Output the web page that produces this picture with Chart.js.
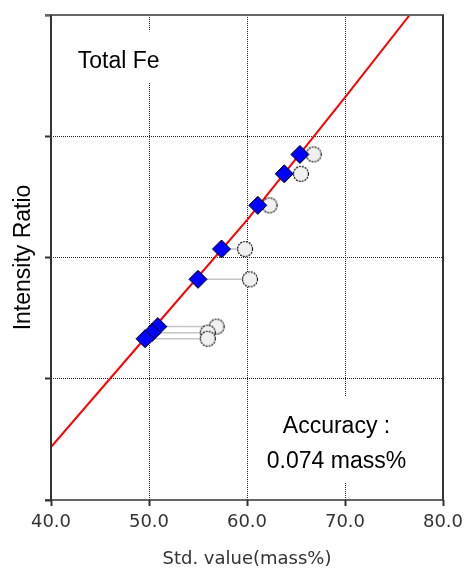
<!DOCTYPE html>
<html>
<head>
<meta charset="utf-8">
<script src="https://cdn.jsdelivr.net/npm/chart.js@4.4.1/dist/chart.umd.min.js"></script>
<style>
  html, body { margin: 0; padding: 0; background: #fff; }
  #c { display: block; }
</style>
</head>
<body>
<canvas id="c" width="468" height="570"></canvas>
<script>
// ── Data ───────────────────────────────────────────
const stdValue  = [65.4, 63.8, 61.1, 57.4, 55.0, 50.9, 50.3, 49.6];   // blue diamonds
const calcValue = [66.8, 65.5, 62.3, 59.8, 60.3, 56.9, 56.0, 56.0];   // open circles
const intensity = [2.85, 2.69, 2.43, 2.07, 1.82, 1.43, 1.38, 1.33];
const curveX = [40, 50, 60, 70, 76.6];
const curveY = [0.437, 1.373, 2.309, 3.32, 4.0];
const xTicks = [40, 50, 60, 70, 80];
const yTicks = [0, 1, 2, 3, 4];

const LABEL_FONT = "'Liberation Sans', Arial, sans-serif";
const AXIS_FONT = "'DejaVu Sans', sans-serif";

// dashed open circle used as point style
function ringImage(r) {
  const c = document.createElement("canvas");
  const s = Math.ceil(2 * r + 3);
  c.width = c.height = s;
  const g = c.getContext("2d");
  g.beginPath();
  g.arc(s / 2, s / 2, r, 0, Math.PI * 2);
  g.fillStyle = "#f0f0f0";
  g.fill();
  g.setLineDash([2, 1]);
  g.strokeStyle = "#111";
  g.lineWidth = 1.2;
  g.stroke();
  return c;
}

// connector segments diamond -> circle, broken by nulls
const links = [];
stdValue.forEach((x, i) => {
  links.push({ x, y: intensity[i] });
  links.push({ x: calcValue[i], y: intensity[i] });
  links.push({ x: calcValue[i], y: null });
});

// ── Frame round the plot area ──────────────────────
const framePlugin = {
  id: "frame",
  afterDatasetsDraw(chart) {
    const { ctx, chartArea: a } = chart;
    ctx.save();
    const line = (x1, y1, x2, y2, color, w) => {
      ctx.beginPath();
      ctx.strokeStyle = color;
      ctx.lineWidth = w;
      ctx.moveTo(x1, y1);
      ctx.lineTo(x2, y2);
      ctx.stroke();
    };
    line(a.left - 6, a.top, a.right + 1, a.top, "#666", 2);
    line(a.left, a.top, a.left, a.bottom, "#333", 2);
    line(a.right, a.top, a.right, a.bottom, "#333", 2);
    line(a.left - 6, a.bottom, a.right, a.bottom, "#333", 1.5);
    ctx.restore();
  }
};

// ── Text boxes inside the plot ─────────────────────
const notesPlugin = {
  id: "notes",
  beforeDatasetsDraw(chart) {
    const { ctx, scales: { x, y } } = chart;
    ctx.save();
    ctx.font = "23px " + LABEL_FONT;
    ctx.textAlign = "center";
    ctx.textBaseline = "alphabetic";

    // Total Fe
    const tx = x.getPixelForValue(46.9), ty = y.getPixelForValue(3.56);
    ctx.fillStyle = "#fff";
    ctx.fillRect(tx - 52, ty - 37, 104, 51);
    ctx.fillStyle = "#000";
    ctx.fillText("Total Fe", tx, ty);

    // Accuracy
    const ax = x.getPixelForValue(69.13);
    const a1 = y.getPixelForValue(0.553), a2 = y.getPixelForValue(0.264);
    ctx.fillStyle = "#fff";
    ctx.fillRect(ax - 82, a1 - 36, 164, (a2 - a1) + 50);
    ctx.fillStyle = "#000";
    ctx.fillText("Accuracy :", ax, a1);
    ctx.fillText("0.074 mass%", ax, a2);
    ctx.restore();
  }
};

const edgeColor = (vals, color) => c => {
  const v = c.tick && c.tick.value;
  return (v === vals[0] || v === vals[vals.length - 1]) ? "transparent" : color;
};

new Chart(document.getElementById("c"), {
  type: "scatter",
  data: {
    datasets: [
      {
        label: "Std. value",
        data: stdValue.map((x, i) => ({ x, y: intensity[i] })),
        pointStyle: "rectRot",
        pointRadius: 9,
        backgroundColor: "#0000ff",
        borderColor: "#000",
        borderWidth: 1,
        order: 0,
      },
      {
        label: "Calc. value",
        data: calcValue.map((x, i) => ({ x, y: intensity[i] })),
        pointStyle: ringImage(7.5),
        pointRadius: 8,
        order: 1,
      },
      {
        label: "links",
        type: "line",
        data: links,
        showLine: true,
        spanGaps: false,
        borderColor: "#c4c4c4",
        borderWidth: 1.5,
        pointRadius: 0,
        order: 2,
      },
      {
        label: "Calibration",
        type: "line",
        data: curveX.map((x, i) => ({ x, y: curveY[i] })),
        borderColor: "#ff0000",
        borderWidth: 2,
        pointRadius: 0,
        tension: 0,
        order: 3,
      },
    ],
  },
  options: {
    responsive: false,
    animation: false,
    devicePixelRatio: 1,
    events: [],
    layout: { padding: { top: 15, right: 25, left: 0, bottom: 0 } },
    plugins: { legend: { display: false }, tooltip: { enabled: false } },
    scales: {
      x: {
        type: "linear",
        min: 40,
        max: 80,
        afterBuildTicks: s => { s.ticks = xTicks.map(v => ({ value: v })); },
        afterFit: s => { s.height = 70; s.paddingLeft = 0; s.paddingRight = 0; },
        ticks: {
          padding: 6,
          color: "#333",
          font: { family: AXIS_FONT, size: 18 },
          maxRotation: 0,
          autoSkip: false,
          callback: v => Number(v).toFixed(1),
        },
        grid: {
          color: edgeColor(xTicks, "#222"),
          lineWidth: 1,
          tickLength: 6,
          tickColor: "#333",
          tickWidth: 2,
          tickBorderDash: [],
        },
        border: { display: false, dash: [1, 1] },
        title: {
          display: true,
          text: "Std. value(mass%)",
          color: "#333",
          font: { family: AXIS_FONT, size: 18 },
          padding: { top: 0, bottom: 0 },
        },
      },
      y: {
        type: "linear",
        min: 0,
        max: 4,
        afterBuildTicks: s => { s.ticks = yTicks.map(v => ({ value: v })); },
        afterFit: s => { s.width = 51; s.paddingTop = 0; s.paddingBottom = 0; },
        ticks: { display: false },
        grid: {
          color: edgeColor(yTicks, "#222"),
          lineWidth: 1,
          tickLength: 6,
          tickColor: "#333",
          tickWidth: 2,
          tickBorderDash: [],
        },
        border: { display: false, dash: [1, 1] },
        title: {
          display: true,
          text: "Intensity Ratio",
          color: "#000",
          font: { family: LABEL_FONT, size: 23 },
          padding: { top: 10, bottom: 0 },
        },
      },
    },
  },
  plugins: [notesPlugin, framePlugin],
});
</script>
</body>
</html>
